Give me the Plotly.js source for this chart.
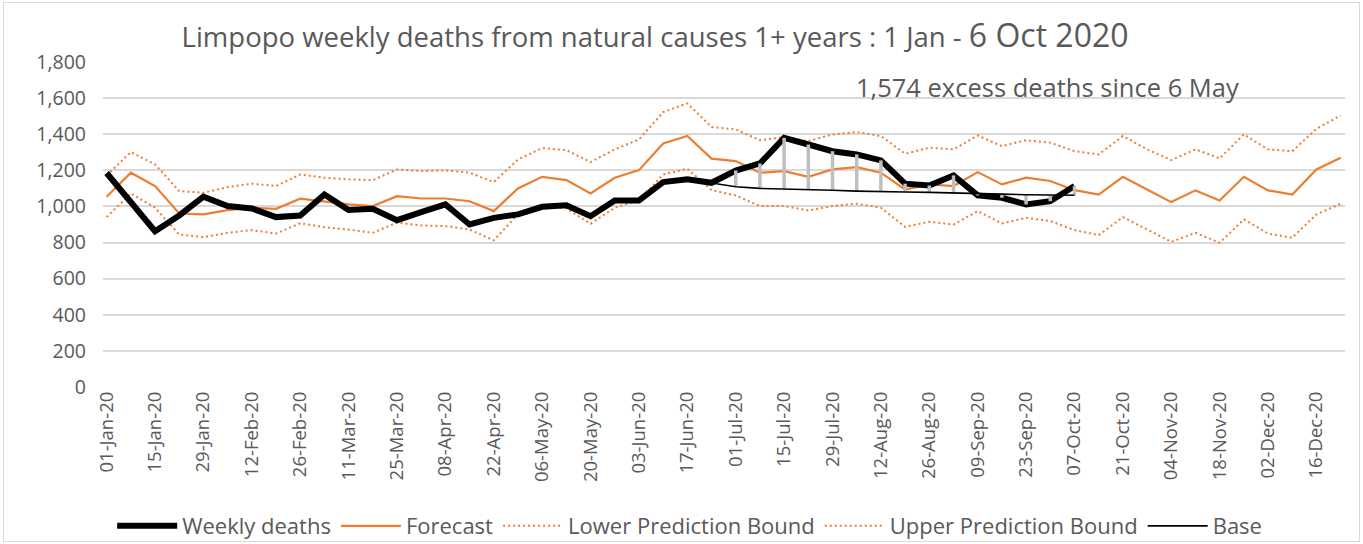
<!DOCTYPE html>
<html>
<head>
<meta charset="utf-8">
<script src="https://cdn.plot.ly/plotly-3.0.1.min.js"></script>
<style>
html,body{margin:0;padding:0;background:#fff;}
#wrap{position:relative;width:1363px;height:544px;}
#chart{width:1363px;height:544px;}
#frame{position:absolute;left:3px;top:2px;width:1355px;height:538px;border:1px solid #d9d9d9;pointer-events:none;}
</style>
</head>
<body>
<div id="wrap"><div id="chart"></div><div id="frame"></div></div>
<script>
const weeks = ["01-Jan-20","08-Jan-20","15-Jan-20","22-Jan-20","29-Jan-20","05-Feb-20","12-Feb-20","19-Feb-20","26-Feb-20","04-Mar-20","11-Mar-20","18-Mar-20","25-Mar-20","01-Apr-20","08-Apr-20","15-Apr-20","22-Apr-20","29-Apr-20","06-May-20","13-May-20","20-May-20","27-May-20","03-Jun-20","10-Jun-20","17-Jun-20","24-Jun-20","01-Jul-20","08-Jul-20","15-Jul-20","22-Jul-20","29-Jul-20","05-Aug-20","12-Aug-20","19-Aug-20","26-Aug-20","02-Sep-20","09-Sep-20","16-Sep-20","23-Sep-20","30-Sep-20","07-Oct-20","14-Oct-20","21-Oct-20","28-Oct-20","04-Nov-20","11-Nov-20","18-Nov-20","25-Nov-20","02-Dec-20","09-Dec-20","16-Dec-20","23-Dec-20"];

const weeklyDeaths = [1185,1029,863,950,1054,1002,989,941,950,1066,980,987,924,969,1011,900,937,956,998,1007,946,1033,1033,1135,1150,1131,1199,1238,1380,1343,1306,1288,1255,1126,1116,1172,1061,1048,1011,1029,1113];

const forecast = [1054,1187,1113,961,956,980,993,987,1043,1026,1011,1002,1057,1044,1044,1029,974,1100,1164,1146,1072,1159,1201,1349,1390,1265,1251,1187,1196,1164,1205,1218,1187,1094,1122,1113,1190,1122,1159,1141,1090,1066,1164,1094,1024,1089,1033,1164,1089,1066,1205,1270];

const upperBound = [1172,1301,1233,1085,1076,1107,1126,1113,1177,1159,1150,1146,1205,1196,1200,1187,1135,1260,1323,1312,1246,1316,1371,1522,1571,1440,1427,1367,1384,1362,1399,1412,1390,1292,1325,1316,1393,1334,1367,1353,1306,1288,1390,1316,1257,1316,1266,1399,1316,1306,1430,1504];

const lowerBound = [941,1072,993,845,830,854,869,850,907,885,872,854,910,895,891,872,812,956,1002,989,904,993,1033,1177,1209,1090,1061,1002,1002,978,1002,1015,993,887,915,900,974,906,937,919,869,841,941,872,804,854,799,928,850,827,956,1015];

const baseStart = 25;
const base = [1130,1109,1100,1098,1094,1090,1085,1081,1080,1078,1076,1072,1068,1065,1063,1062];

const yTicks = [0,200,400,600,800,1000,1200,1400,1600,1800];
const xTickLabels = weeks.filter((w,i)=>i%2===0);

const orange = '#ED7D31';
const txt = '#595959';
const font = 'Open Sans, Noto Sans, sans-serif';

const baseX = base.map((v,i)=>weeks[baseStart+i]);
const barX = [], barY = [];
base.forEach((b,i)=>{
  const w = weeks[baseStart+i];
  barX.push(w,w,null);
  barY.push(b, weeklyDeaths[baseStart+i], null);
});

const traces = [
  {x: weeks, y: lowerBound, name: 'Lower Prediction Bound', mode: 'lines',
   line: {color: orange, width: 2, dash: '2px,3px'}, legendrank: 3, hoverinfo:'skip'},
  {x: weeks, y: upperBound, name: 'Upper Prediction Bound', mode: 'lines',
   line: {color: orange, width: 2, dash: '2px,3px'}, legendrank: 4, hoverinfo:'skip'},
  {x: weeks, y: forecast, name: 'Forecast', mode: 'lines',
   line: {color: orange, width: 2.2}, legendrank: 2},
  {x: weeks.slice(0, weeklyDeaths.length), y: weeklyDeaths, name: 'Weekly deaths', mode: 'lines',
   line: {color: '#000', width: 6}, legendrank: 1},
  {x: barX, y: barY, name: 'Excess', mode: 'lines', showlegend: false,
   line: {color: '#bfbfbf', width: 3.5}, connectgaps: false},
  {x: baseX, y: base, name: 'Base', mode: 'lines',
   line: {color: '#000', width: 1.6}, legendrank: 5}
];

const layout = {
  width: 1363, height: 544,
  margin: {l: 103, r: 18, t: 62, b: 157},
  paper_bgcolor: '#fff', plot_bgcolor: '#fff',
  font: {family: font, color: txt},
  title: {
    text: 'Limpopo weekly deaths from natural causes 1+ years : 1 Jan - <span style="font-size:32px">6 Oct 2020</span>',
    font: {family: font, size: 27.5, color: txt},
    x: 0.4806, xanchor: 'center', y: 0.932, yanchor: 'middle', xref: 'container', yref: 'container'
  },
  xaxis: {
    type: 'category',
    categoryorder: 'array', categoryarray: weeks,
    range: [-0.15, 51.18],
    tickmode: 'array', tickvals: xTickLabels, ticktext: xTickLabels,
    tickangle: -90,
    tickfont: {family: font, size: 18.5, color: txt},
    showgrid: false, zeroline: false, showline: false, ticks: '', ticklen: 0
  },
  yaxis: {
    range: [0, 1800],
    tickmode: 'array', tickvals: yTicks,
    tickformat: ',d',
    tickfont: {family: font, size: 19.5, color: txt},
    gridcolor: '#d9d9d9', gridwidth: 2,
    zeroline: false, showline: false, ticks: '', ticklabelstandoff: 16
  },
  showlegend: true,
  legend: {
    orientation: 'h', xref: 'container', yref: 'container',
    x: 0.506, xanchor: 'center', y: 0.033, yanchor: 'middle',
    font: {family: font, size: 22, color: txt},
    traceorder: 'normal', itemwidth: 60
  },
  annotations: [{
    text: '1,574 excess deaths since 6 May',
    xref: 'paper', yref: 'paper', x: 0.7605, y: 0.923,
    xanchor: 'center', yanchor: 'middle', showarrow: false,
    font: {family: font, size: 25.5, color: txt}
  }]
};

Plotly.newPlot('chart', traces, layout, {displayModeBar: false, staticPlot: true});
</script>
</body>
</html>
